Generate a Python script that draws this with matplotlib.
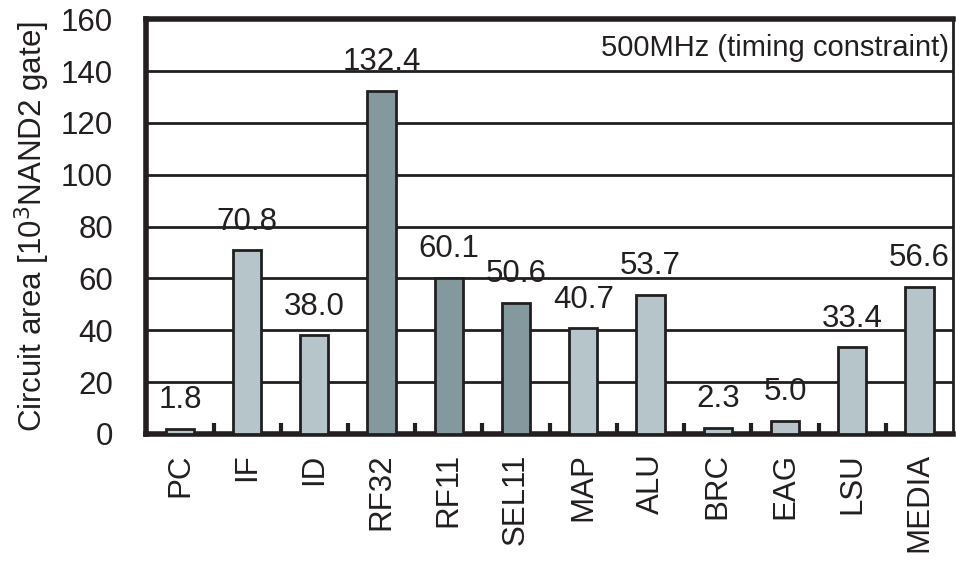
import matplotlib
matplotlib.use('Agg')
import matplotlib.pyplot as plt

plt.rcParams['font.family'] = ['Liberation Sans', 'DejaVu Sans']

units = ['PC', 'IF', 'ID', 'RF32', 'RF11', 'SEL11', 'MAP', 'ALU', 'BRC', 'EAG', 'LSU', 'MEDIA']
area = [1.8, 70.8, 38.0, 132.4, 60.1, 50.6, 40.7, 53.7, 2.3, 5.0, 33.4, 56.6]
dark_units = ['RF32', 'RF11', 'SEL11']

light = '#b5c5c9'
dark = '#84999e'
ink = '#231f20'
colors = [dark if u in dark_units else light for u in units]

fig = plt.figure(figsize=(9.56, 5.65), dpi=100)
ax = fig.add_axes([0.153, 0.232, 0.844, 0.734])

x = list(range(len(units)))
ax.set_axisbelow(True)
ax.grid(axis='y', color=ink, linewidth=2)
ax.bar(x, area, width=0.42, color=colors, edgecolor=ink, linewidth=2, zorder=3)

# value labels above bars
for xi, v in zip(x, area):
    ax.annotate('{:.1f}'.format(v), (xi, v), xytext=(0, 15), textcoords='offset points',
                ha='center', va='baseline', fontsize=22.5, color=ink)

ax.set_xlim(-0.5, len(units) - 0.5)
ax.set_ylim(0, 160)
ax.set_yticks(range(0, 161, 20))
ax.set_xticks(x)
ax.set_xticklabels(units, rotation=90, fontsize=22.5, color=ink)
ax.set_xticks([i + 0.5 for i in x[:-1]], minor=True)
ax.tick_params(axis='x', which='major', length=0, pad=14)
ax.tick_params(axis='x', which='minor', direction='in', length=8, width=3, color=ink)
ax.tick_params(axis='y', length=0, labelsize=22.5, labelcolor=ink, pad=24)

for name, spine in ax.spines.items():
    spine.set_color(ink)
    spine.set_linewidth(4 if name in ('left', 'bottom', 'top') else 2)

ax.set_ylabel('Circuit area [10$^3$NAND2 gate]', fontsize=22.5, color=ink, labelpad=6)
ax.text(0.995, 0.965, '500MHz (timing constraint)', transform=ax.transAxes,
        ha='right', va='top', fontsize=21, color=ink)

fig.savefig('out.png', dpi=100)
